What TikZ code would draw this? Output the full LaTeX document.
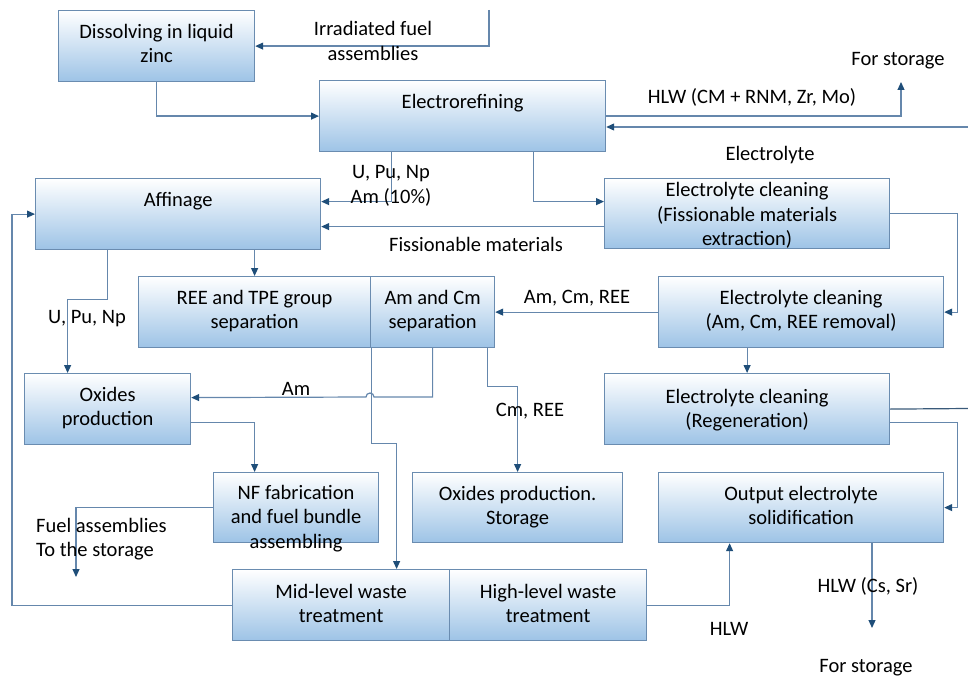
\documentclass[tikz,border=0pt]{standalone}
\usepackage{fontspec}
\setmainfont{Carlito}
\usetikzlibrary{arrows.meta,positioning}
\definecolor{boxblue}{HTML}{9DC3E6}
\definecolor{edgeblue}{HTML}{6A8CB0}
\definecolor{lineblue}{HTML}{6587AC}
\definecolor{tipblue}{HTML}{1F4E79}
\definecolor{darkline}{HTML}{3A5A7A}

\begin{document}
\begin{tikzpicture}[x=1pt, y=-1pt,
    every node/.style={font=\fontsize{20.5}{24.5}\selectfont, inner sep=0pt},
    box/.style={draw=edgeblue, line width=1.2pt, top color=white, middle color=boxblue!30, bottom color=boxblue, anchor=north west},
    boxtext/.style={anchor=north, yshift=-14pt, align=center},
    flow/.style={draw=lineblue, line width=1.2pt, -{Triangle[length=8pt,width=7pt,color=tipblue]}},
    pipe/.style={draw=lineblue, line width=1.2pt}]
    \useasboundingbox (0,0) rectangle (968,679);

    % process boxes
    \node[box, minimum width=196pt, minimum height=71pt, label={[boxtext]north:{Dissolving in liquid\\zinc}}] (dissolve) at (58,10) {};
    \node[box, minimum width=286pt, minimum height=71pt, label={[boxtext]north:Electrorefining}] (elref) at (319,80) {};
    \node[box, minimum width=285pt, minimum height=71pt, label={[boxtext]north:Affinage}] (affin) at (35,178) {};
    \node[box, minimum width=285pt, minimum height=70pt, label={[boxtext, yshift=9.5pt]north:{Electrolyte cleaning\\(Fissionable materials\\extraction)}}] (eclean1) at (604,178) {};
    \node[box, minimum width=232pt, minimum height=71pt, label={[boxtext]north:{REE and TPE group\\separation}}] (reesep) at (138,276) {};
    \node[box, minimum width=124pt, minimum height=71pt, label={[boxtext]north:{Am and Cm\\separation}}] (amcmsep) at (370,276) {};
    \node[box, minimum width=285pt, minimum height=71pt, label={[boxtext]north:{Electrolyte cleaning\\(Am, Cm, REE removal)}}] (eclean2) at (658,276) {};
    \node[box, minimum width=166pt, minimum height=71pt, label={[boxtext]north:{Oxides\\production}}] (oxprod) at (24,373) {};
    \node[box, minimum width=285pt, minimum height=71pt, label={[boxtext, yshift=-2pt]north:{Electrolyte cleaning\\(Regeneration)}}] (eclean3) at (604,373) {};
    \node[box, minimum width=165pt, minimum height=70pt, label={[boxtext, yshift=1pt]north:{NF fabrication\\and fuel bundle\\assembling}}] (nffab) at (213,472) {};
    \node[box, minimum width=210pt, minimum height=70pt, label={[boxtext]north:{Oxides production.\\Storage}}] (oxstore) at (412,472) {};
    \node[box, minimum width=285pt, minimum height=70pt, label={[boxtext]north:{Output electrolyte\\solidification}}] (solidif) at (658,472) {};
    \node[box, minimum width=217pt, minimum height=71pt, label={[boxtext, yshift=-1pt]north:{Mid-level waste\\treatment}}] (midwaste) at (232,569) {};
    \node[box, minimum width=197pt, minimum height=71pt, label={[boxtext, yshift=-1pt]north:{High-level waste\\treatment}}] (highwaste) at (449,569) {};

    % free ends
    \coordinate (fuelin) at (489,10);
    \coordinate (hlwtop) at (901,82);
    \coordinate (electin) at (968,127);
    \coordinate (electout) at (968,408.5);
    \coordinate (fuelout) at (76,577);
    \coordinate (hlwout) at (872,628);
    \coordinate (hop) at (370,397);

    % flows
    \draw[flow] (fuelin) |- (dissolve.east);
    \draw[flow] (dissolve.south) |- (elref.west);
    \draw[flow] (elref.east) -| (hlwtop);
    \draw[flow] (electin) -- (elref.east |- electin);
    \draw[flow] ([xshift=71pt]elref.south) |- ([yshift=12pt]eclean1.west);
    \draw[flow] ([xshift=-71pt]elref.south) |- ([yshift=12.5pt]affin.east);
    \draw[flow] ([yshift=-13pt]eclean1.west) -- ([yshift=-12.5pt]affin.east);
    \draw[flow] (eclean1.east) -| ([xshift=13pt]eclean2.east) -- (eclean2.east);
    \draw[flow] (eclean2.west) -- (amcmsep.east);
    \draw[flow] (eclean3.north |- eclean2.south) -- (eclean3.north);
    \draw[pipe, draw=darkline] (eclean3.east) -- (electout);
    \draw[flow] ([yshift=-13.5pt]eclean3.east) -| ([xshift=13pt]solidif.east) -- (solidif.east);
    \draw[flow] ([xshift=-70.5pt]affin.south) -- ++(0,49) -| ([xshift=-40pt]oxprod.north);
    \draw[flow] (affin.south -| reesep.north) -- (reesep.north);
    \draw[flow] (amcmsep.south) |- ([xshift=4pt]hop) arc[start angle=0, end angle=180, radius=4pt] -- ([yshift=11.5pt]oxprod.east);
    \draw[flow] (reesep.south east) -- ++(0,95) -| ([xshift=55.5pt]midwaste.north);
    \draw[flow] ([yshift=-13.5pt]oxprod.east) -| ([xshift=-41.5pt]nffab.north);
    \draw[flow] ([xshift=55pt]amcmsep.south) -- ++(0,38) -| (oxstore.north);
    \draw[flow] (nffab.west) -| (fuelout);
    \draw[flow] (midwaste.west) -| ([xshift=-23pt]affin.west) -- (affin.west);
    \draw[flow] (highwaste.east) -| ([xshift=-71.5pt]solidif.south);
    \draw[flow] (solidif.south -| hlwout) -- (hlwout);

    % flow labels
    \node[align=center] (irrlbl) at (373,41) {Irradiated fuel\\assemblies};
    \node (storelbl1) at (898,61) {For storage};
    \node (hlwlbl) at (752,97) {HLW (CM + RNM, Zr, Mo)};
    \node (electlbl) at (770,155) {Electrolyte};
    \node[align=center] (upnlbl) at (391,186) {U, Pu, Np\\Am (10\%)};
    \node (fisslbl) at (476,244) {Fissionable materials};
    \node (upnlbl2) at (87,319) {U, Pu, Np};
    \node (amcmlbl) at (577,298) {Am, Cm, REE};
    \node (amlbl) at (296,389) {Am};
    \node (cmlbl) at (530,411) {Cm, REE};
    \node[anchor=west, align=left] (fuellbl) at (36,539) {Fuel assemblies\\To the storage};
    \node (hlwlbl2) at (729,629) {HLW};
    \node (cssrlbl) at (868,586) {HLW (Cs, Sr)};
    \node (storelbl2) at (866,668) {For storage};
\end{tikzpicture}
\end{document}
